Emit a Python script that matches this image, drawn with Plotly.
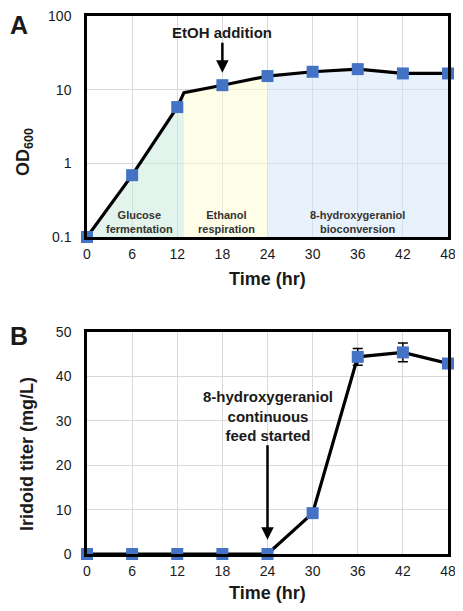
import plotly.graph_objects as go

# ---------------- data ----------------
time_ticks = [0, 6, 12, 18, 24, 30, 36, 42, 48]

# Panel A: OD600 (sampled points)
od_time = [0, 6, 12, 18, 24, 30, 36, 42, 48]
od_value = [0.1, 0.69, 5.8, 11.5, 15.3, 17.5, 19.0, 16.6, 16.6]
# bend in the growth line (glucose exhausted)
kink_time = 12.9
kink_od = 9.1

phase_labels = ["Glucose<br>fermentation", "Ethanol<br>respiration",
                "8-hydroxygeraniol<br>bioconversion"]
phase_label_time = [7, 18.5, 36]
phase_bounds = [0, kink_time, 24, 48]
phase_colors = ["rgba(199,233,217,0.5)", "rgba(253,251,209,0.5)", "rgba(209,229,249,0.5)"]

# Panel B: Iridoid titer
titer_time = [0, 6, 12, 18, 24, 30, 36, 42, 48]
titer_value = [0, 0, 0, 0, 0, 9.2, 44.4, 45.4, 42.9]
titer_err = [0, 0, 0, 0, 0, 0.3, 1.9, 2.1, 0.5]

FONT = "Liberation Sans, Arial, sans-serif"
BLUE = "#4472C4"

# page has an 8px body margin -> figure is 447x595 inside the 463x611 window
PAGE_M = 8
W, H = 463 - 2 * PAGE_M, 611 - 2 * PAGE_M


def px(x):
    return (x - PAGE_M) / W


def py(y):
    return 1 - (y - PAGE_M) / H


fig = go.Figure()

# line points incl. kink
line_t = od_time[:3] + [kink_time] + od_time[3:]
line_v = od_value[:3] + [kink_od] + od_value[3:]

# phase fills (under the curve, down to 0.1)
for i in range(3):
    lo, hi = phase_bounds[i], phase_bounds[i + 1]
    xs = [t for t in line_t if lo <= t <= hi]
    ys = [v for t, v in zip(line_t, line_v) if lo <= t <= hi]
    fig.add_trace(go.Scatter(
        x=xs + [hi, lo], y=ys + [0.1, 0.1], fill="toself", mode="none",
        fillcolor=phase_colors[i], xaxis="x", yaxis="y", hoverinfo="skip",
        showlegend=False))

fig.add_trace(go.Scatter(x=line_t, y=line_v, mode="lines",
                         line=dict(color="black", width=3.2),
                         xaxis="x", yaxis="y", showlegend=False))
fig.add_trace(go.Scatter(x=od_time, y=od_value, mode="markers",
                         marker=dict(symbol="square", size=12, color=BLUE),
                         xaxis="x", yaxis="y", showlegend=False, cliponaxis=False))

# Panel B
fig.add_trace(go.Scatter(x=titer_time, y=titer_value, mode="lines+markers",
                         line=dict(color="black", width=3.2),
                         marker=dict(symbol="square", size=12, color=BLUE),
                         error_y=dict(type="data", array=titer_err, visible=True,
                                      color="black", thickness=1.5, width=5),
                         xaxis="x2", yaxis="y2", showlegend=False, cliponaxis=False))

xdom = [px(87), px(448)]
ydomA = [py(237), py(16)]
ydomB = [py(554), py(332)]

tickfont = dict(family=FONT, size=14, color="#1a1a1a")
common_x = dict(range=[0, 48], tickvals=time_ticks, showgrid=True, gridcolor="#d9d9d9",
                gridwidth=1.2, showline=True, linecolor="black", linewidth=2.5,
                mirror=True, ticks="", tickfont=tickfont, ticklabelstandoff=2,
                zeroline=False, automargin=False, ticklabeloverflow="allow")
common_y = dict(showgrid=True, gridcolor="#d9d9d9", gridwidth=1.2, showline=True,
                linecolor="black", linewidth=2.5, mirror=True, ticks="",
                tickfont=tickfont, ticklabelstandoff=10, zeroline=False, automargin=False,
                ticklabeloverflow="allow")

annotations = []
for lab, t in zip(phase_labels, phase_label_time):
    annotations.append(dict(x=t, y=-0.8, xref="x", yref="y", text="<b>" + lab + "</b>",
                            showarrow=False, font=dict(family=FONT, size=11, color="#333"),
                            align="center", xanchor="center", yanchor="middle"))

# EtOH addition arrow (text at arrow tail)
annotations.append(dict(x=18, y=1.23, xref="x", yref="y", ax=0, ay=-40,
                        axref="pixel", ayref="pixel", showarrow=True, arrowhead=2,
                        arrowsize=1, arrowwidth=2.5, arrowcolor="black",
                        text="<b>EtOH addition</b>",
                        font=dict(family=FONT, size=15, color="#1a1a1a")))

# Feed arrow panel B
annotations.append(dict(x=24, y=3.2, xref="x2", yref="y2", ax=0, ay=-124,
                        axref="pixel", ayref="pixel", showarrow=True, arrowhead=2,
                        arrowsize=1, arrowwidth=2.5, arrowcolor="black",
                        text="<b>8-hydroxygeraniol<br>continuous<br>feed started</b>",
                        align="center", font=dict(family=FONT, size=15, color="#1a1a1a")))


def paper_text(x, y, text, size, angle=0):
    return dict(x=px(x), y=py(y), xref="paper", yref="paper", text=text,
                showarrow=False, textangle=angle, xanchor="center", yanchor="middle",
                font=dict(family=FONT, size=size, color="#1a1a1a"))


annotations += [
    paper_text(19, 25, "<b>A</b>", 25),
    paper_text(19, 336, "<b>B</b>", 25),
    paper_text(24, 152, "<b>OD<sub>600</sub></b>", 18, -90),
    paper_text(27, 454, "<b>Iridoid titer (mg/L)</b>", 18, -90),
    paper_text((87 + 448) / 2, 279, "<b>Time (hr)</b>", 18),
    paper_text((87 + 448) / 2, 593, "<b>Time (hr)</b>", 18),
]

fig.update_layout(
    width=W, height=H, margin=dict(l=0, r=0, t=0, b=0),
    paper_bgcolor="white", plot_bgcolor="white",
    xaxis=dict(domain=xdom, anchor="y", **common_x),
    yaxis=dict(domain=ydomA, anchor="x", type="log", range=[-1, 2],
               tickvals=[0.1, 1, 10, 100], ticktext=["0.1", "1", "10", "100"], **common_y),
    xaxis2=dict(domain=xdom, anchor="y2", **common_x),
    yaxis2=dict(domain=ydomB, anchor="x2", range=[0, 50], tickvals=[0, 10, 20, 30, 40, 50],
                **common_y),
    annotations=annotations,
    showlegend=False,
)

fig.write_html("out.html")
